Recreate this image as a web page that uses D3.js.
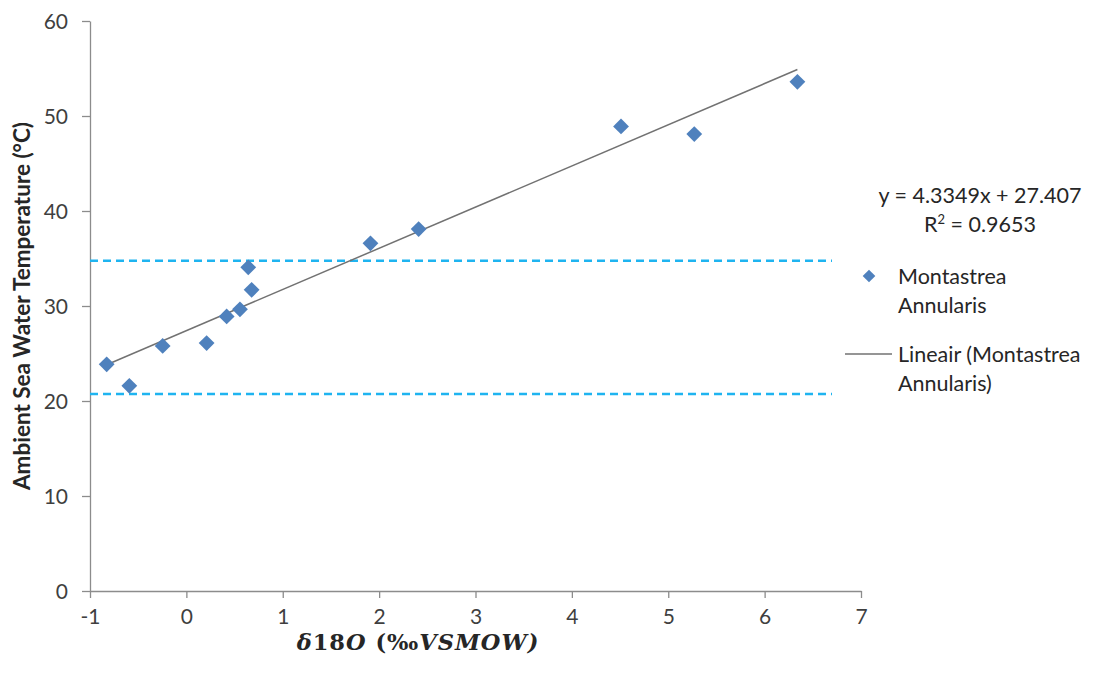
<!DOCTYPE html>
<html>
<head>
<meta charset="utf-8">
<script src="https://cdn.jsdelivr.net/npm/d3@7"></script>
<style>
  html, body { margin: 0; padding: 0; background: #fff; }
  svg { display: block; font-family: Lato, "Open Sans", sans-serif; }
</style>
</head>
<body>
<svg id="chart" width="1097" height="675"></svg>
<script>
// δ18O (‰ VSMOW) against ambient sea water temperature, Montastrea annularis
const delta18O = [-0.827, -0.592, -0.246, 0.21, 0.418, 0.556, 0.642, 0.677, 1.91, 2.41, 4.51, 5.27, 6.34];
const temperature = [23.86, 21.6, 25.8, 26.1, 28.9, 29.65, 34.07, 31.7, 36.6, 38.1, 48.9, 48.1, 53.6];

// Linear fit reported on the chart
const fitSlope = 4.3349;
const fitIntercept = 27.407;
const fitR2 = 0.9653;

// Horizontal reference levels (°C)
const referenceLevels = [34.77, 20.74];

const xTicks = [-1, 0, 1, 2, 3, 4, 5, 6, 7];
const yTicks = [0, 10, 20, 30, 40, 50, 60];

const svg = d3.select("#chart");

const x = d3.scaleLinear().domain([-1, 7]).range([90, 861]);
const y = d3.scaleLinear().domain([0, 60]).range([591, 21]);

const axisColor = "#8c8c8c";
const tickText = "#3f3f3f";
const plainNumber = d => String(d);

// Y axis
const yAxis = svg.append("g")
  .attr("transform", `translate(${x(-1)},0)`)
  .call(d3.axisLeft(y).tickValues(yTicks).tickFormat(plainNumber)
    .tickSizeOuter(0).tickSizeInner(8).tickPadding(14));
// X axis
const xAxis = svg.append("g")
  .attr("transform", `translate(0,${y(0)})`)
  .call(d3.axisBottom(x).tickValues(xTicks).tickFormat(plainNumber)
    .tickSizeOuter(0).tickSizeInner(7).tickPadding(11));

[xAxis, yAxis].forEach(g => {
  g.select(".domain").attr("stroke", axisColor).attr("stroke-width", 1.3);
  g.selectAll(".tick line").attr("stroke", axisColor).attr("stroke-width", 1.3);
  g.selectAll(".tick text")
    .attr("fill", tickText)
    .style("font-size", "21px")
    .style("font-family", "Lato, 'Open Sans', sans-serif");
});
yAxis.selectAll(".tick text").attr("dy", "0.36em");

// Reference levels (dashed)
svg.append("g").selectAll("line")
  .data(referenceLevels)
  .join("line")
  .attr("x1", x(-1))
  .attr("x2", 832)
  .attr("y1", d => y(d))
  .attr("y2", d => y(d))
  .attr("stroke", "#1fb4f0")
  .attr("stroke-width", 2.6)
  .attr("stroke-dasharray", "8,5");

// Trendline from min to max of the data
const xMin = d3.min(delta18O), xMax = d3.max(delta18O);
svg.append("line")
  .attr("x1", x(xMin))
  .attr("y1", y(fitSlope * xMin + fitIntercept))
  .attr("x2", x(xMax))
  .attr("y2", y(fitSlope * xMax + fitIntercept))
  .attr("stroke", "#727272")
  .attr("stroke-width", 1.5);

// Data points as diamonds
const diamond = d3.symbol().type(d3.symbolSquare).size(125);
const points = delta18O.map((d, i) => ({ x: d, y: temperature[i] }));
svg.append("g").selectAll("path")
  .data(points)
  .join("path")
  .attr("d", diamond)
  .attr("transform", d => `translate(${x(d.x)},${y(d.y)}) rotate(45)`)
  .attr("fill", "#4f81bd");

// Axis titles
svg.append("text")
  .attr("transform", `translate(22,${(y(0) + y(60)) / 2}) rotate(-90)`)
  .attr("text-anchor", "middle")
  .attr("dy", "0.35em")
  .attr("fill", "#262626")
  .style("font-size", "22.5px")
  .style("font-weight", "bold")
  .text("Ambient Sea Water Temperature (°C)");

const xTitle = svg.append("text")
  .attr("x", 418)
  .attr("y", 650)
  .attr("text-anchor", "middle")
  .attr("fill", "#262626")
  .style("font-family", "'DejaVu Serif', 'Liberation Serif', serif")
  .style("font-size", "22.5px")
  .style("font-weight", "bold")
  .style("letter-spacing", "1px");
xTitle.append("tspan").style("font-style", "italic").text("δ");
xTitle.append("tspan").text("18");
xTitle.append("tspan").style("font-style", "italic").text("O");
xTitle.append("tspan").text(" (‰");
xTitle.append("tspan").style("font-style", "italic").text("VSMOW");
xTitle.append("tspan").style("font-style", "italic").text(")");

// Fit equation
const eq = svg.append("g").attr("fill", "#262626").style("font-size", "21.5px");
eq.append("text").attr("x", 980).attr("y", 203).attr("text-anchor", "middle")
  .text(`y = ${fitSlope}x + ${fitIntercept}`);
const r2 = eq.append("text").attr("x", 980).attr("y", 232).attr("text-anchor", "middle");
r2.append("tspan").text("R");
r2.append("tspan").attr("dy", -8).style("font-size", "13px").text("2");
r2.append("tspan").attr("dy", 8).text(` = ${fitR2}`);

// Legend
const legend = svg.append("g").attr("fill", "#262626").style("font-size", "21.5px");
legend.append("path")
  .attr("d", d3.symbol().type(d3.symbolSquare).size(80))
  .attr("transform", "translate(869,276) rotate(45)")
  .attr("fill", "#4f81bd");
legend.append("text").attr("x", 898).attr("y", 284).text("Montastrea");
legend.append("text").attr("x", 898).attr("y", 313).text("Annularis");
legend.append("line")
  .attr("x1", 845).attr("x2", 892).attr("y1", 354).attr("y2", 354)
  .attr("stroke", "#727272").attr("stroke-width", 1.5);
legend.append("text").attr("x", 898).attr("y", 362).text("Lineair (Montastrea");
legend.append("text").attr("x", 898).attr("y", 391).text("Annularis)");
</script>
</body>
</html>
